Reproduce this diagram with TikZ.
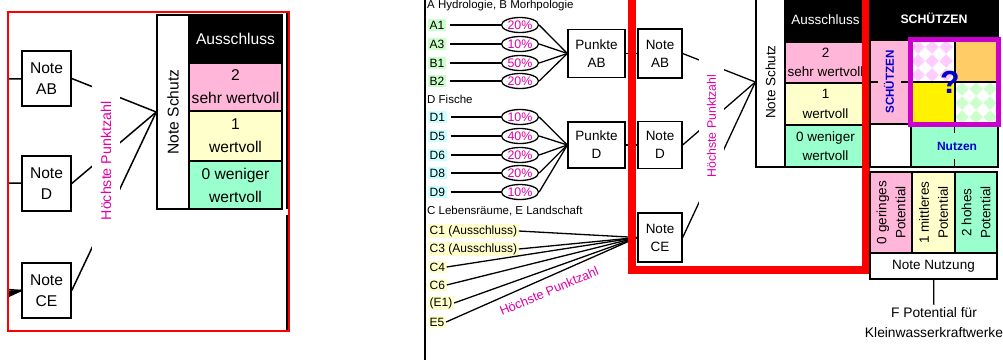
\documentclass[tikz,border=0pt]{standalone}
\usepackage{fontspec}
\setmainfont{Liberation Sans}
\usetikzlibrary{shapes.geometric}
\definecolor{lpink}{RGB}{255,182,216}
\definecolor{ppink}{RGB}{255,204,255}
\definecolor{lyellow}{RGB}{255,255,204}
\definecolor{lgreen}{RGB}{204,255,204}
\definecolor{lcyan}{RGB}{204,255,255}
\definecolor{mint}{RGB}{153,255,204}
\definecolor{lorange}{RGB}{255,204,102}
\definecolor{pinktxt}{RGB}{221,0,170}
\definecolor{nblue}{RGB}{0,0,204}
\definecolor{framepurple}{RGB}{204,0,204}
\begin{document}
\begin{tikzpicture}[x=1pt, y=-1pt,
  con/.style={line width=1.3pt},
  icon/.style={line width=1.5pt},
  box/.style={draw, line width=1.3pt, align=center, inner sep=0pt, font=\fontsize{13.5}{18}\selectfont},
  cell/.style={box, font=\fontsize{13.5}{19.5}\selectfont},
  ibox/.style={box, line width=1.5pt, font=\fontsize{15.6}{21.5}\selectfont},
  icell/.style={box, line width=1.5pt, font=\fontsize{15.6}{23}\selectfont},
  head/.style={anchor=west, inner sep=0pt, font=\fontsize{11.5}{13}\selectfont},
  lab/.style={anchor=west, inner xsep=1.5pt, inner ysep=1.8pt, font=\fontsize{12}{14}\selectfont},
  pct/.style={draw, ellipse, line width=1.3pt, minimum width=37pt, minimum height=15pt, inner sep=0pt,
    text height=8.8pt, text depth=0pt, text=pinktxt, font=\fontsize{12.4}{14}\selectfont},
  hoechst/.style={text=pinktxt, inner sep=0pt},
  bluebold/.style={text=nblue, font=\bfseries\fontsize{12}{14}\selectfont},
  checker/.style={path picture={
    \foreach \i in {0,...,4} \foreach \j in {0,...,4}
      \fill[white] ([shift={(\i*14,\j*14)}]path picture bounding box.north west)
        +(-7,0) -- +(0,7) -- +(7,0) -- +(0,-7) -- cycle;}}
]
\useasboundingbox (0,0) rectangle (1003,360);
% Inset: enlarged view of the red frame
\coordinate (iinAB) at (8,79);
\coordinate (iinD) at (8,183);
\node[ibox, minimum width=49pt, minimum height=55pt] (iAB) at (46.5,78.5) {Note\\AB};
\node[ibox, minimum width=49pt, minimum height=55pt] (iD) at (46.5,183.5) {Note\\D};
\node[ibox, minimum width=49pt, minimum height=55pt] (iCE) at (46.5,290.5) {Note\\CE};
\node[ibox, rotate=90, minimum width=194pt, minimum height=32pt] (iSchutz) at (173,112) {Note Schutz};
\node[icell, fill=black, text=white, minimum width=93pt, minimum height=48pt] (iExcl) at (235.5,39) {Ausschluss};
\node[icell, fill=lpink, minimum width=93pt, minimum height=48pt] (iTwo) at (235.5,87) {2\\sehr wertvoll};
\node[icell, fill=lyellow, minimum width=93pt, minimum height=50pt] (iOne) at (235.5,136) {1\\wertvoll};
\node[icell, fill=mint, minimum width=93pt, minimum height=48pt] (iZero) at (235.5,185) {0 weniger\\wertvoll};
\draw[icon] (iinAB) -- (iAB);
\draw[icon] (iinD) -- (iD);
\foreach \dy in {-1,1,2.5,4,5.5,6.5} \draw[icon] (iCE.west) -- ++(-14,\dy);
\draw[icon] (iAB.east) -- (iSchutz.north);
\draw[icon] (iD.east) -- (iSchutz.north);
\draw[icon] (iCE.east) -- (iSchutz.north);
\node[hoechst, rotate=90, fill=white, minimum width=184pt, minimum height=28pt,
  font=\fontsize{14.2}{16}\selectfont] (iHP) at (106,161) {Höchste Punktzahl};
\draw[icon] (287,12) -- (287,209);
\draw[icon] (287,215) -- (287,331);
\draw[red, line width=2pt] (8,12) rectangle (289,331);
% Separator
\draw[line width=2.2pt] (425,0) -- (425,360);
% A Hydrologie, B Morhpologie
\node[head] (hAB) at (427,6) {A Hydrologie, B Morhpologie};
\node[lab, fill=lgreen] (A1) at (428,25) {A1};
\node[lab, fill=lgreen] (A3) at (428,44) {A3};
\node[lab, fill=lgreen] (B1) at (428,63) {B1};
\node[lab, fill=lgreen] (B2) at (428,81) {B2};
\node[pct] (pA1) at (520,25) {20\%};
\node[pct] (pA3) at (520,44) {10\%};
\node[pct] (pB1) at (520,63) {50\%};
\node[pct] (pB2) at (520,81) {20\%};
\node[box, minimum width=57pt, minimum height=48pt] (pktAB) at (596.5,53.5) {Punkte\\AB};
\draw[con, shorten <=4pt] (A1) -- (pA1);
\draw[con, shorten <=4pt] (A3) -- (pA3);
\draw[con, shorten <=4pt] (B1) -- (pB1);
\draw[con, shorten <=4pt] (B2) -- (pB2);
\draw[con] (pA1.east) -- (pktAB.west);
\draw[con] (pA3.east) -- (pktAB.west);
\draw[con] (pB1.east) -- (pktAB.west);
\draw[con] (pB2.east) -- (pktAB.west);
% D Fische
\node[head] (hD) at (427,99) {D Fische};
\node[lab, fill=lcyan] (D1) at (428,117) {D1};
\node[lab, fill=lcyan] (D5) at (428,136) {D5};
\node[lab, fill=lcyan] (D6) at (428,155) {D6};
\node[lab, fill=lcyan] (D8) at (428,173) {D8};
\node[lab, fill=lcyan] (D9) at (428,192) {D9};
\node[pct] (pD1) at (520,117) {10\%};
\node[pct] (pD5) at (520,136) {40\%};
\node[pct] (pD6) at (520,155) {20\%};
\node[pct] (pD8) at (520,173) {20\%};
\node[pct] (pD9) at (520,192) {10\%};
\node[box, minimum width=57pt, minimum height=46pt] (pktD) at (596.5,145) {Punkte\\D};
\draw[con, shorten <=4pt] (D1) -- (pD1);
\draw[con, shorten <=4pt] (D5) -- (pD5);
\draw[con, shorten <=4pt] (D6) -- (pD6);
\draw[con, shorten <=4pt] (D8) -- (pD8);
\draw[con, shorten <=4pt] (D9) -- (pD9);
\draw[con] (pD1.east) -- (pktD.west);
\draw[con] (pD5.east) -- (pktD.west);
\draw[con] (pD6.east) -- (pktD.west);
\draw[con] (pD8.east) -- (pktD.west);
\draw[con] (pD9.east) -- (pktD.west);
% C Lebensraeume, E Landschaft
\node[head] (hC) at (427,211) {C Lebensräume, E Landschaft};
\node[lab, fill=lyellow] (C1) at (428,231) {C1 (Ausschluss)};
\node[lab, fill=lyellow] (C3) at (428,249) {C3 (Ausschluss)};
\node[lab, fill=lyellow] (C4) at (428,267) {C4};
\node[lab, fill=lyellow] (C6) at (428,285) {C6};
\node[lab, fill=lyellow] (E1) at (428,303) {(E1)};
\node[lab, fill=lyellow] (E5) at (428,322) {E5};
% Notes
\node[box, minimum width=44pt, minimum height=49pt] (nAB) at (660,53.5) {Note\\AB};
\node[box, minimum width=44pt, minimum height=47pt] (nD) at (660,145) {Note\\D};
\node[box, minimum width=44pt, minimum height=49pt] (nCE) at (660,237.5) {Note\\CE};
\draw[con] (pktAB) -- (nAB);
\draw[con] (pktD) -- (nD);
\draw[con] (C1.east) -- (nCE.west);
\draw[con] (C3.east) -- (nCE.west);
\draw[con] (C4.east) -- (nCE.west);
\draw[con] (C6.east) -- (nCE.west);
\draw[con] (E1.east) -- (nCE.west);
\draw[con] (E5.east) -- (nCE.west);
\node[hoechst, rotate=23, font=\fontsize{12.7}{14}\selectfont] (hpC) at (549,291) {Höchste Punktzahl};
% Note Schutz
\node[box, rotate=90, minimum width=170pt, minimum height=29pt] (schutz) at (770.5,82) {Note Schutz};
\draw[con] (nAB.east) -- (schutz.north);
\draw[con] (nD.east) -- (schutz.north);
\draw[con] (nCE.east) -- (schutz.north);
\node[hoechst, rotate=90, fill=white, minimum width=166pt, minimum height=25pt,
  font=\fontsize{12.3}{14}\selectfont] (hpN) at (711.5,126) {Höchste Punktzahl};
\node[cell, fill=black, text=white, minimum width=81pt, minimum height=45pt] (excl) at (825.5,19.5) {Ausschluss};
\node[cell, fill=lpink, minimum width=81pt, minimum height=41pt] (two) at (825.5,62.5) {2\\sehr wertvoll};
\node[cell, fill=lyellow, minimum width=81pt, minimum height=42pt] (one) at (825.5,104) {1\\wertvoll};
\node[cell, fill=mint, minimum width=81pt, minimum height=42pt] (zero) at (825.5,146) {0 weniger\\wertvoll};
% Red frame
\draw[red, line width=8pt] (632,-10) rectangle (866,270);
% SCHUETZEN / Nutzen matrix
\node[box, fill=black, text=white, font=\bfseries\fontsize{12.3}{14}\selectfont,
  minimum width=128pt, minimum height=43pt] (sHead) at (934,18.5) {SCHÜTZEN};
\node[box, fill=lpink, minimum width=41pt, minimum height=84pt] (sCol) at (890.5,82) {};
\node[box, fill=ppink, checker, minimum width=44pt, minimum height=42pt] (qTL) at (933,61) {};
\node[box, fill=lorange, minimum width=43pt, minimum height=42pt] (qTR) at (976.5,61) {};
\node[box, fill=yellow, minimum width=44pt, minimum height=42pt] (qBL) at (933,103) {};
\node[box, fill=lgreen, checker, minimum width=43pt, minimum height=42pt] (qBR) at (976.5,103) {};
\node[box, fill=white, minimum width=41pt, minimum height=43pt] (nWhite) at (890.5,145.5) {};
\node[box, fill=mint, minimum width=87pt, minimum height=43pt] (nutz) at (954.5,145.5) {};
\draw[con] (sCol.west) -- (sCol.east);
\draw[con] (nutz.north) -- (nutz.south);
\node[bluebold, rotate=90, fill=lpink, inner xsep=1pt, inner ysep=6.5pt, font=\bfseries\fontsize{11.6}{14}\selectfont] (sLab) at (889,82) {SCHÜTZEN};
\node[bluebold, fill=mint, inner xsep=2pt, inner ysep=9pt] (nLab) at (957,146) {Nutzen};
\draw[framepurple, line width=4.5pt] (qTL.north west) rectangle (qBR.south east);
\node[text=nblue, inner sep=0pt, font=\bfseries\fontsize{32}{32}\selectfont] (qm) at (950,82) {?};
% Potential fuer Kleinwasserkraftwerke
\node[box, rotate=90, fill=lpink, minimum width=81pt, minimum height=42pt, font=\fontsize{13.5}{19}\selectfont] (pot0) at (891,212.5) {0 geringes\\Potential};
\node[box, rotate=90, fill=lyellow, minimum width=81pt, minimum height=43pt, font=\fontsize{13.5}{19}\selectfont] (pot1) at (933.5,212.5) {1 mittleres\\Potential};
\node[box, rotate=90, fill=mint, minimum width=81pt, minimum height=42pt, font=\fontsize{13.5}{19}\selectfont] (pot2) at (976,212.5) {2 hohes\\Potential};
\node[box, minimum width=127pt, minimum height=26pt] (nutzung) at (933.5,266) {Note Nutzung};
\node[align=center, inner sep=3pt, font=\fontsize{13.8}{20}\selectfont] (fpot) at (934,323) {F Potential für\\Kleinwasserkraftwerke};
\draw[con] (nutzung) -- (fpot);
\end{tikzpicture}
\end{document}
